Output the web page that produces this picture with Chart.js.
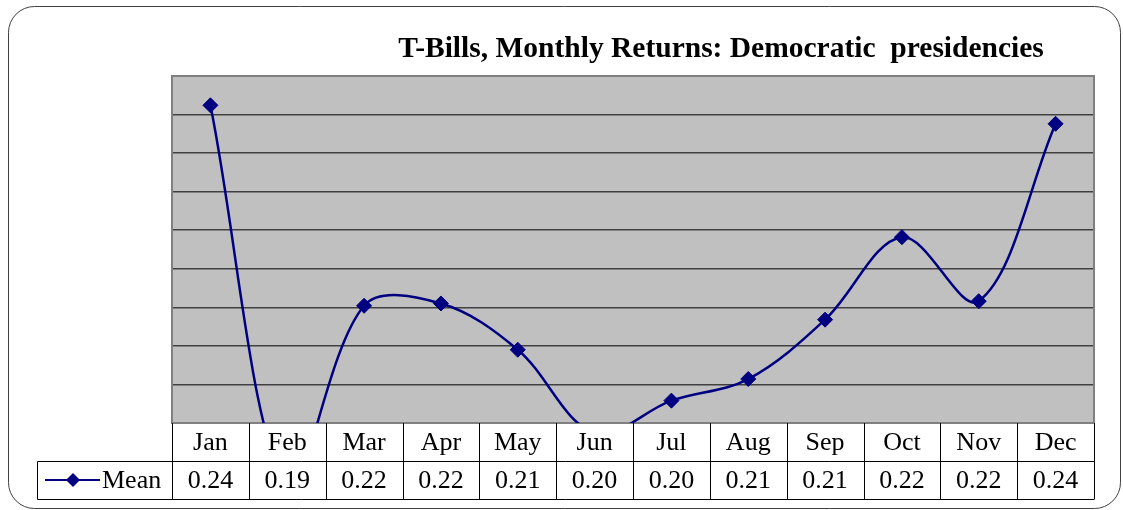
<!DOCTYPE html>
<html>
<head>
<meta charset="utf-8">
<title>T-Bills, Monthly Returns: Democratic presidencies</title>
<script src="https://cdn.jsdelivr.net/npm/chart.js@4/dist/chart.umd.min.js"></script>
<style>
  body { margin: 0; background: #fff; }
</style>
</head>
<body>
<canvas id="tbills-chart" width="1123" height="510"></canvas>
<script>
// Months along the bottom and the mean monthly return for each one
let months = ['Jan', 'Feb', 'Mar', 'Apr', 'May', 'Jun', 'Jul', 'Aug', 'Sep', 'Oct', 'Nov', 'Dec']
let meanReturns = [0.2412, 0.1920, 0.2152, 0.2155, 0.2095, 0.1987, 0.2029, 0.2057, 0.2134, 0.2241, 0.2158, 0.2388]
let seriesName = 'Mean'
let chartTitle = 'T-Bills, Monthly Returns: Democratic  presidencies'

// Value axis range (no labels shown, only the gridlines)
let axisMin = 0.20
let axisMax = 0.245
let axisStep = 0.005

let navy = '#000080'
let serif = "'Liberation Serif', 'Times New Roman', serif"

// Frame, title and grey plot background, drawn before the scales
let backgroundPlugin = {
    id: 'background',
    beforeDraw(chart) {
        let ctx = chart.ctx
        let area = chart.chartArea
        ctx.save()
        ctx.fillStyle = '#fff'
        ctx.fillRect(0, 0, chart.width, chart.height)

        // rounded outer frame
        ctx.strokeStyle = '#404040'
        ctx.lineWidth = 1
        ctx.beginPath()
        ctx.roundRect(8.5, 6.5, 1112, 502, 26)
        ctx.stroke()

        ctx.fillStyle = '#c0c0c0'
        ctx.fillRect(area.left, area.top, area.right - area.left, area.bottom - area.top)

        ctx.fillStyle = '#000'
        ctx.font = 'bold 29.5px ' + serif
        ctx.textAlign = 'center'
        ctx.textBaseline = 'alphabetic'
        ctx.fillText(chartTitle, 721, 57)
        ctx.restore()
    },
    beforeDatasetsDraw(chart) {
        // grey border round the plot area, on top of the gridlines
        let ctx = chart.ctx
        let area = chart.chartArea
        ctx.save()
        ctx.strokeStyle = '#808080'
        ctx.lineWidth = 2
        ctx.strokeRect(area.left, area.top, area.right - area.left, area.bottom - area.top)
        ctx.restore()
    }
}

// Data table under the plot: month row, then the legend key and values
let dataTablePlugin = {
    id: 'dataTable',
    afterDraw(chart) {
        let ctx = chart.ctx
        let x = chart.scales.x
        let area = chart.chartArea
        let half = (x.getPixelForValue(1) - x.getPixelForValue(0)) / 2
        let rowHeight = 38
        let top = area.bottom
        let mid = top + rowHeight
        let bottom = mid + rowHeight
        let keyLeft = 37.5

        ctx.save()
        ctx.fillStyle = '#fff'
        ctx.fillRect(area.left, top + 1, area.right - area.left, rowHeight * 2)
        ctx.fillRect(keyLeft, mid, area.left - keyLeft, rowHeight)

        ctx.strokeStyle = '#000'
        ctx.lineWidth = 1
        ctx.beginPath()
        // horizontal rules
        ctx.moveTo(keyLeft, Math.round(mid) + 0.5)
        ctx.lineTo(area.right, Math.round(mid) + 0.5)
        ctx.moveTo(keyLeft, Math.round(bottom) + 0.5)
        ctx.lineTo(area.right, Math.round(bottom) + 0.5)
        // legend cell left edge
        ctx.moveTo(keyLeft, Math.round(mid) + 0.5)
        ctx.lineTo(keyLeft, Math.round(bottom) + 0.5)
        // column separators
        for (let i = 0; i <= months.length; i++) {
            let px = Math.round(x.getPixelForValue(i) - half) + 0.5
            ctx.moveTo(px, top)
            ctx.lineTo(px, Math.round(bottom) + 0.5)
        }
        ctx.stroke()

        ctx.fillStyle = '#000'
        ctx.font = '26px ' + serif
        ctx.textAlign = 'center'
        ctx.textBaseline = 'middle'
        months.forEach(function(month, i) {
            let cx = x.getPixelForValue(i)
            ctx.fillText(month, cx, top + rowHeight / 2 + 1)
            ctx.fillText(meanReturns[i].toFixed(2), cx, mid + rowHeight / 2 + 1)
        })

        // legend key: line with a diamond, then the series name
        let keyY = mid + rowHeight / 2
        ctx.strokeStyle = navy
        ctx.lineWidth = 2
        ctx.beginPath()
        ctx.moveTo(45, keyY)
        ctx.lineTo(100, keyY)
        ctx.stroke()
        ctx.fillStyle = navy
        ctx.beginPath()
        ctx.moveTo(73, keyY - 7)
        ctx.lineTo(80, keyY)
        ctx.lineTo(73, keyY + 7)
        ctx.lineTo(66, keyY)
        ctx.closePath()
        ctx.fill()
        ctx.fillStyle = '#000'
        ctx.textAlign = 'left'
        ctx.fillText(seriesName, 102, keyY + 1)
        ctx.restore()
    }
}

let canvas = document.querySelector('#tbills-chart')
let context = canvas.getContext('2d')

let tbillsChart = new Chart(context, {
    type: 'line',
    data: {
        labels: months,
        datasets: [
            {
                label: seriesName,
                data: meanReturns,
                borderColor: navy,
                borderWidth: 2.5,
                tension: 0.35,
                pointStyle: 'rectRot',
                pointRadius: 7.5,
                pointBackgroundColor: navy,
                pointBorderColor: navy,
                pointBorderWidth: 1
            }
        ]
    },
    options: {
        responsive: false,
        animation: false,
        layout: {
            padding: { left: 172, right: 29, top: 76, bottom: 87 }
        },
        elements: {
            line: { capBezierPoints: false }
        },
        plugins: {
            legend: { display: false },
            title: { display: false },
            tooltip: { enabled: false }
        },
        scales: {
            x: {
                display: false,
                offset: true
            },
            y: {
                min: axisMin,
                max: axisMax,
                ticks: { display: false, stepSize: axisStep },
                border: { display: false },
                grid: {
                    drawTicks: false,
                    lineWidth: 1.5,
                    color: function(c) {
                        let last = c.chart.scales.y.ticks.length - 1
                        return (c.index === 0 || c.index === last) ? 'rgba(0,0,0,0)' : '#404040'
                    }
                },
                afterFit: function(axis) { axis.width = 0 }
            }
        }
    },
    plugins: [backgroundPlugin, dataTablePlugin]
})
</script>
</body>
</html>
